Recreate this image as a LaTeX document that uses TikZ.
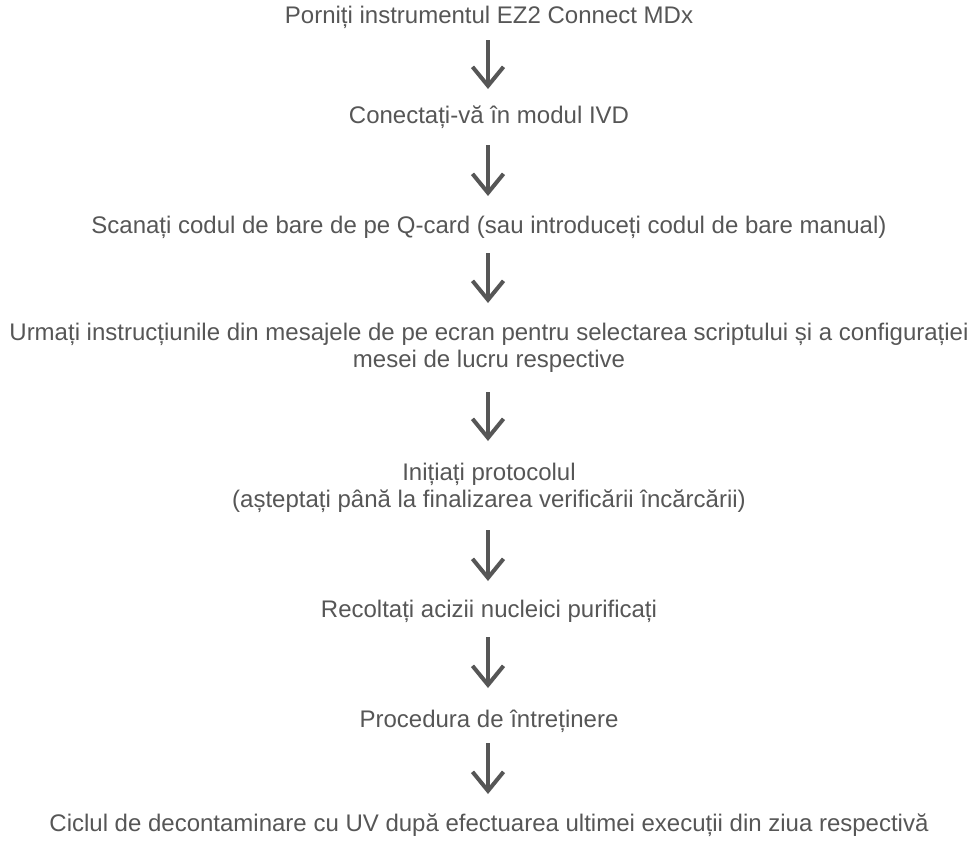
\documentclass[tikz,border=0pt]{standalone}
\usepackage{fontspec}
\setmainfont{Liberation Sans}
\usetikzlibrary{arrows.meta}
\definecolor{txt}{HTML}{565656}
\begin{document}
\begin{tikzpicture}[x=1pt,y=-1pt,
  stepbox/.style={text=txt,font=\fontsize{24}{27}\selectfont,align=center,inner sep=0pt,anchor=base},
  flow/.style={draw=txt,line width=4pt,-{Straight Barb[length=19pt,width=31pt,line width=4pt]}}]
\useasboundingbox (0,0) rectangle (980,841);
\node[stepbox] (s1) at (489,23) {Porniți instrumentul EZ2 Connect MDx};
\node[stepbox] (s2) at (489,123) {Conectați-vă în modul IVD};
\node[stepbox] (s3) at (489,233) {Scanați codul de bare de pe Q-card (sau introduceți codul de bare manual)};
\node[stepbox] (s4) at (489,367) {Urmați instrucțiunile din mesajele de pe ecran pentru selectarea scriptului și a configurației\\mesei de lucru respective};
\node[stepbox] (s5) at (489,507) {Inițiați protocolul\\(așteptați până la finalizarea verificării încărcării)};
\node[stepbox] (s6) at (489,617) {Recoltați acizii nucleici purificați};
\node[stepbox] (s7) at (489,727) {Procedura de întreținere};
\node[stepbox] (s8) at (489,831) {Ciclul de decontaminare cu UV după efectuarea ultimei execuții din ziua respectivă};
\coordinate (a1s) at (488,40); \coordinate (a1e) at (488,89);
\coordinate (a2s) at (488,145); \coordinate (a2e) at (488,196);
\coordinate (a3s) at (488,253); \coordinate (a3e) at (488,303);
\coordinate (a4s) at (488,392); \coordinate (a4e) at (488,441);
\coordinate (a5s) at (488,530); \coordinate (a5e) at (488,581);
\coordinate (a6s) at (488,637); \coordinate (a6e) at (488,688);
\coordinate (a7s) at (488,743); \coordinate (a7e) at (488,794);
\draw[flow] (a1s) -- (a1e);
\draw[flow] (a2s) -- (a2e);
\draw[flow] (a3s) -- (a3e);
\draw[flow] (a4s) -- (a4e);
\draw[flow] (a5s) -- (a5e);
\draw[flow] (a6s) -- (a6e);
\draw[flow] (a7s) -- (a7e);
\end{tikzpicture}
\end{document}
